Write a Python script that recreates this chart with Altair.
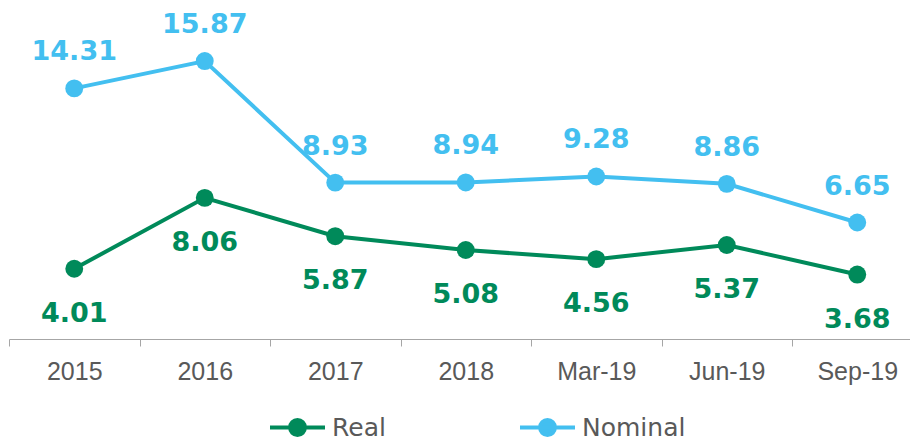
import altair as alt
import pandas as pd

categories = ["2015", "2016", "2017", "2018", "Mar-19", "Jun-19", "Sep-19"]
real = [4.01, 8.06, 5.87, 5.08, 4.56, 5.37, 3.68]
nominal = [14.31, 15.87, 8.93, 8.94, 9.28, 8.86, 6.65]
series_names = ["Real", "Nominal"]

GREEN = "#008A5A"
BLUE = "#43BFF0"
GRAY = "#595959"

df = pd.DataFrame(
    [{"cat": c, "series": "Real", "value": v} for c, v in zip(categories, real)]
    + [{"cat": c, "series": "Nominal", "value": v} for c, v in zip(categories, nominal)]
)

x = alt.X(
    "cat:N",
    sort=categories,
    bandPosition=0.5,
    scale=alt.Scale(type="band", range=[1, 914.5], paddingInner=0, paddingOuter=0),
    axis=alt.Axis(
        title=None,
        labelAngle=0,
        domainColor="#A6A6A6",
        tickColor="#A6A6A6",
        tickSize=7,
        tickBand="extent",
        labelFont="Liberation Sans",
        labelFontSize=25,
        labelColor=GRAY,
        labelPadding=33,
        labelBaseline="alphabetic",
        grid=False,
    ),
)
y = alt.Y("value:Q", scale=alt.Scale(domain=[0, 18.9], nice=False, zero=True), axis=None)

sym_path = "M-1,0H1M-0.27,0A0.27,0.27,0,1,1,0.27,0A0.27,0.27,0,1,1,-0.27,0Z"


def make_legend():
    return alt.Legend(
        title=None,
        orient="none",
        legendX=260,
        legendY=390,
        direction="horizontal",
        symbolType=sym_path,
        symbolSize=3025,
        symbolStrokeWidth=4,
        symbolOpacity=1,
        labelFont="DejaVu Sans",
        labelFontSize=25,
        labelColor=GRAY,
        labelOffset=5,
        columnPadding=126,
        padding=0,
    )


cscale = alt.Scale(domain=series_names, range=[GREEN, BLUE])

lines = alt.Chart(df).mark_line(strokeWidth=4).encode(
    x=x, y=y, color=alt.Color("series:N", scale=cscale, legend=make_legend())
)

points = alt.Chart(df).mark_point(filled=True, size=320, opacity=1, strokeWidth=0).encode(
    x=x, y=y, fill=alt.Fill("series:N", scale=cscale, legend=make_legend())
)

nom_text = alt.Chart(df).transform_filter(alt.datum.series == "Nominal").mark_text(
    font="DejaVu Sans", fontWeight="bold", fontSize=27, color=BLUE,
    baseline="alphabetic", dy=-28,
).encode(x=x, y=y, text=alt.Text("value:Q", format=".2f"))

real_text = alt.Chart(df).transform_filter(alt.datum.series == "Real").mark_text(
    font="DejaVu Sans", fontWeight="bold", fontSize=27, color=GREEN,
    baseline="alphabetic", dy=53,
).encode(x=x, y=y, text=alt.Text("value:Q", format=".2f"))

chart = alt.layer(lines, points, nom_text, real_text).properties(
    width=902,
    height=331,
    autosize=alt.AutoSizeParams(type="none"),
    padding={"left": 0, "top": 0, "right": 0, "bottom": 112},
    background="white",
).configure_view(stroke=None)

chart.save("out.html", embed_options={"renderer": "svg", "actions": False})
